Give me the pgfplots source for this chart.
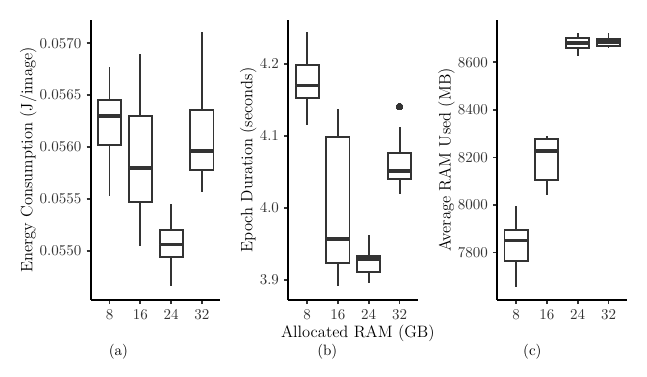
\documentclass[border=0pt]{standalone}
\usepackage{pgfplots}
\pgfplotsset{compat=1.18}
\usepgfplotslibrary{statistics}
\definecolor{boxc}{HTML}{333333}
\definecolor{tickc}{HTML}{333333}
\pgfplotsset{
  myaxis/.style={
    scale only axis, width=86.5pt, height=186.67pt,
    anchor=south west,
    axis x line*=bottom, axis y line*=left,
    axis line style={line width=1.3pt, black, -},
    xmin=0.39, xmax=4.6,
    xtick={1,2,3,4}, xticklabels={8,16,24,32},
    tick style={line width=1.1pt, boxc},
    tick align=outside, major tick length=2.7pt,
    tick label style={font=\fontsize{10}{12}\selectfont, text=tickc},
    ylabel style={font=\fontsize{11}{13}\selectfont, yshift=-4.7pt},
    boxplot/draw direction=y,
    boxplot/box extend=0.75,
    boxplot/whisker extend=0,
    boxplot/every median/.style={line width=2.4pt},
  },
  bx/.style={draw=boxc, fill=white, line width=1.3pt, solid, mark=none},
}
\begin{document}
\begin{tikzpicture}
\useasboundingbox (0,0) rectangle (431.33pt,251.33pt);
% (a)  values in units of 0.001 J/image
\begin{axis}[myaxis, at={(60.47pt,51.33pt)},
  ymin=54.526, ymax=57.224,
  ytick={55,55.5,56,56.5,57},
  yticklabels={0.0550,0.0555,0.0560,0.0565,0.0570},
  ylabel={Energy Consumption (J/image)}]
\addplot[bx, boxplot prepared={draw position=1, lower whisker=55.53, lower quartile=56.02, median=56.30, upper quartile=56.45, upper whisker=56.775}] coordinates {};
\addplot[bx, boxplot prepared={draw position=2, lower whisker=55.05, lower quartile=55.47, median=55.80, upper quartile=56.30, upper whisker=56.90}] coordinates {};
\addplot[bx, boxplot prepared={draw position=3, lower whisker=54.66, lower quartile=54.94, median=55.06, upper quartile=55.20, upper whisker=55.45}] coordinates {};
\addplot[bx, boxplot prepared={draw position=4, lower whisker=55.57, lower quartile=55.78, median=55.96, upper quartile=56.36, upper whisker=57.11}] coordinates {};
\end{axis}
% (b)
\begin{axis}[myaxis, at={(192.2pt,51.33pt)},
  ymin=3.8722, ymax=4.2611,
  ytick={3.9,4.0,4.1,4.2},
  yticklabel style={/pgf/number format/fixed, /pgf/number format/fixed zerofill, /pgf/number format/precision=1},
  ylabel={Epoch Duration (seconds)}]
\addplot[bx, boxplot prepared={draw position=1, lower whisker=4.115, lower quartile=4.153, median=4.170, upper quartile=4.199, upper whisker=4.244}] coordinates {};
\addplot[bx, boxplot prepared={draw position=2, lower whisker=3.891, lower quartile=3.923, median=3.957, upper quartile=4.098, upper whisker=4.138}] coordinates {};
\addplot[bx, boxplot prepared={draw position=3, lower whisker=3.896, lower quartile=3.911, median=3.929, upper quartile=3.933, upper whisker=3.962}] coordinates {};
\addplot[bx, mark=*, mark size=2.2pt, mark options={fill=boxc, draw=boxc, line width=0pt}, boxplot prepared={draw position=4, lower whisker=4.020, lower quartile=4.040, median=4.051, upper quartile=4.077, upper whisker=4.112}] coordinates {(0,4.141)};
\end{axis}
% (c)  values in units of 100 MB
\begin{axis}[myaxis, at={(331.5pt,51.33pt)},
  ymin=76.01, ymax=87.777,
  ytick={76,78,80,82,84,86},
  yticklabels={7600,7800,8000,8200,8400,8600},
  ylabel={Average RAM Used (MB)}]
\addplot[bx, boxplot prepared={draw position=1, lower whisker=76.57, lower quartile=77.65, median=78.51, upper quartile=78.96, upper whisker=79.94}] coordinates {};
\addplot[bx, boxplot prepared={draw position=2, lower whisker=80.43, lower quartile=81.06, median=82.28, upper quartile=82.77, upper whisker=82.91}] coordinates {};
\addplot[bx, boxplot prepared={draw position=3, lower whisker=86.28, lower quartile=86.60, median=86.80, upper quartile=87.02, upper whisker=87.24}] coordinates {};
\addplot[bx, boxplot prepared={draw position=4, lower whisker=86.59, lower quartile=86.70, median=86.84, upper quartile=86.97, upper whisker=87.22}] coordinates {};
\end{axis}
\node[font=\fontsize{11}{13}\selectfont] at (238.6pt,29.33pt) {Allocated RAM (GB)};
\node[font=\fontsize{10}{12}\selectfont] at (78.9pt,17pt) {(a)};
\node[font=\fontsize{10}{12}\selectfont] at (218.2pt,17pt) {(b)};
\node[font=\fontsize{10}{12}\selectfont] at (354.9pt,17pt) {(c)};
\end{tikzpicture}
\end{document}
